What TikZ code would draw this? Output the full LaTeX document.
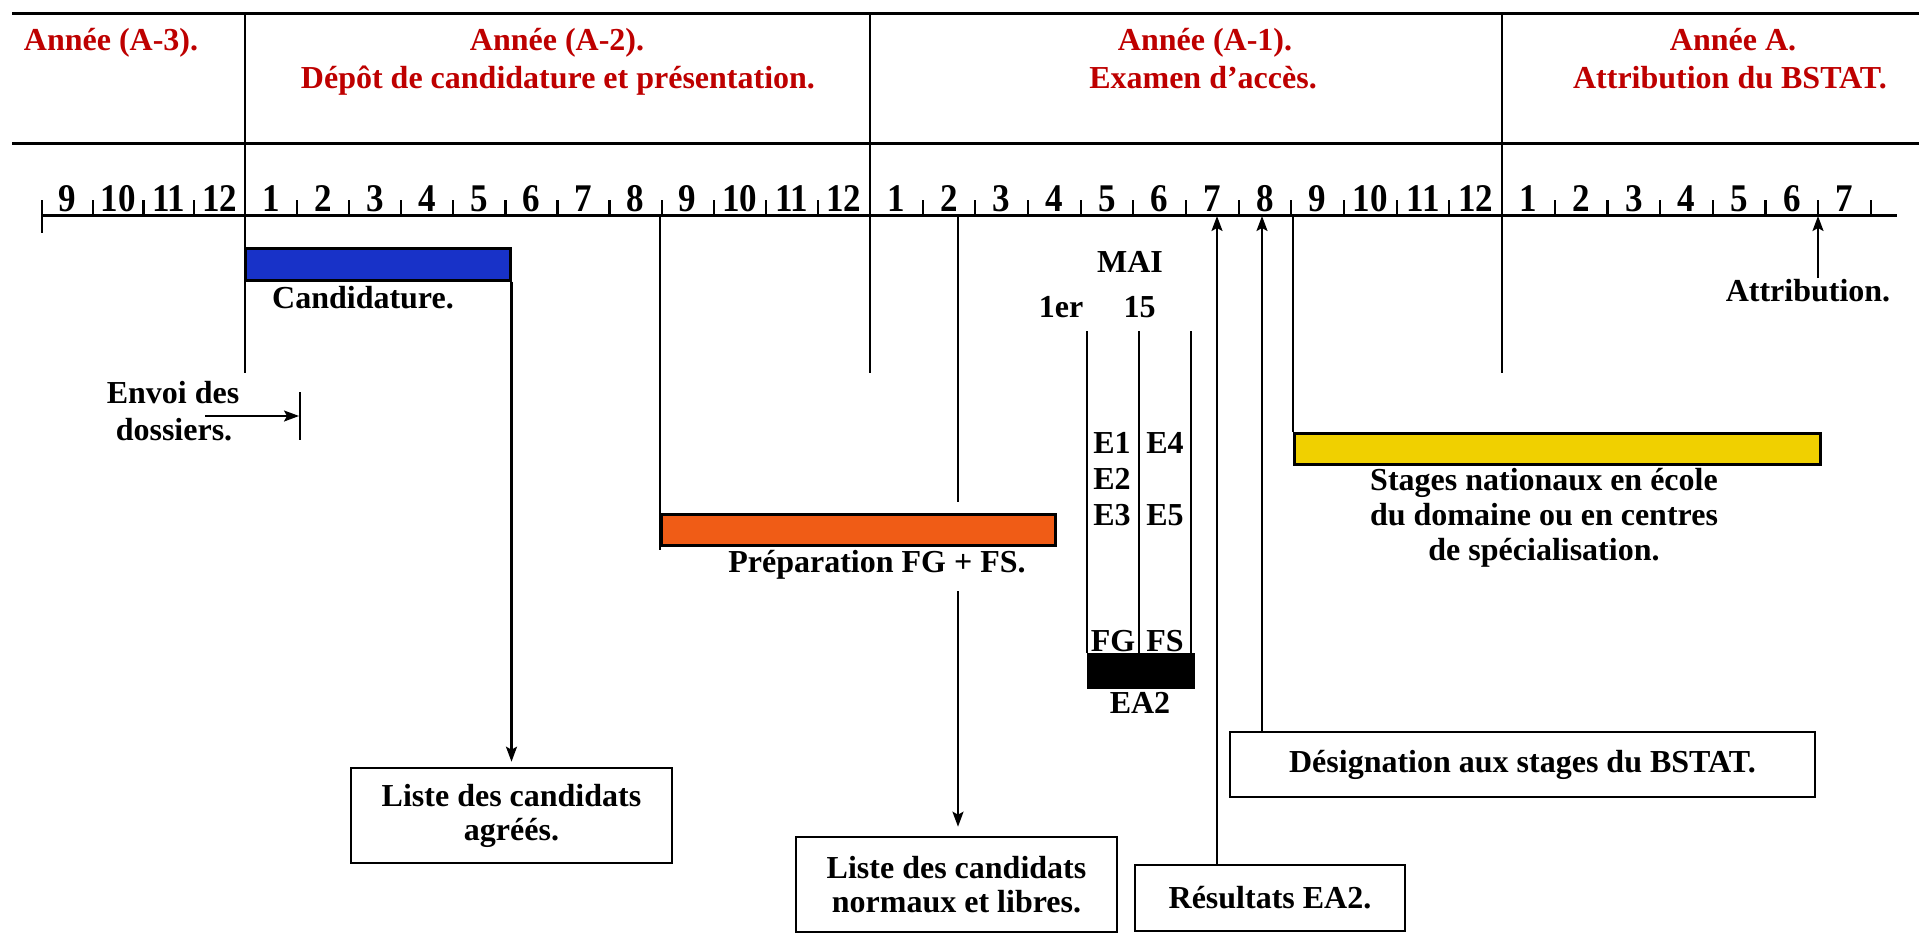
\documentclass[tikz,border=0pt]{standalone}
\usepackage{graphicx}
\usepackage{fontspec}
\setmainfont{Liberation Serif}
\usetikzlibrary{arrows.meta}
\definecolor{hdrred}{RGB}{190,0,0}
\definecolor{barblue}{RGB}{24,50,200}
\definecolor{barorange}{RGB}{240,92,22}
\definecolor{baryellow}{RGB}{240,208,0}
\newcommand{\tallnum}[1]{\scalebox{1}[1.12]{#1}}
\begin{document}
\begin{tikzpicture}[x=1bp,y=-1bp,
  txt/.style={font=\fontsize{32bp}{34bp}\selectfont\bfseries, inner sep=0pt},
  lbl/.style={txt, anchor=base},
  hdr/.style={lbl, text=hdrred},
  num/.style={font=\fontsize{35bp}{36bp}\selectfont\bfseries, inner sep=0pt, anchor=base},
  ln/.style={line width=2.2bp, line cap=butt},
  hline/.style={line width=3bp},
  bar/.style={draw=black, line width=2.5bp, inner sep=0pt, anchor=north west},
  box/.style={draw=black, line width=2.6bp, txt, align=center, inner sep=0pt},
  arr/.style={line width=2.2bp, -{Stealth[length=15bp,width=11bp,inset=3bp]}},
]
\useasboundingbox (0,0) rectangle (1919,947);
\fill[white] (0,0) rectangle (1919,947);

% ---------- header ----------
\draw[hline] (12,13) -- (1919,13);
\draw[hline] (12,143) -- (1919,143);
\foreach \x in {245,870,1502} \draw[ln] (\x,13) -- (\x,373);

\node[hdr] (h3) at (111,50) {Année (A-3).};
\node[hdr] (h2a) at (557,50) {Année (A-2).};
\node[hdr] (h2b) at (558,88) {Dépôt de candidature et présentation.};
\node[hdr] (h1a) at (1205,50) {Année (A-1).};
\node[hdr] (h1b) at (1203,88) {Examen d’accès.};
\node[hdr] (h0a) at (1733,50) {Année A.};
\node[hdr] (h0b) at (1730,88) {Attribution du BSTAT.};

% ---------- time axis ----------
\draw[hline] (42,215) -- (1897,215);
\draw[ln] (42,200) -- (42,233);
\foreach \m [count=\i from 0] in {9,10,11,12} {
  \pgfmathsetmacro\xa{42+50.75*\i}
  \node[num] (ma\m) at (\xa+25.4,211) {\tallnum{\m}};
  \draw[ln] (\xa+50.75,215) -- (\xa+50.75,200);
}
\foreach \m [count=\i from 0] in {1,...,12} {
  \pgfmathsetmacro\xa{245+52.08*\i}
  \node[num] (mb\m) at (\xa+26.04,211) {\tallnum{\m}};
  \draw[ln] (\xa+52.08,215) -- (\xa+52.08,200);
}
\foreach \m [count=\i from 0] in {1,...,12} {
  \pgfmathsetmacro\xa{870+52.67*\i}
  \node[num] (mc\m) at (\xa+26.33,211) {\tallnum{\m}};
  \draw[ln] (\xa+52.67,215) -- (\xa+52.67,200);
}
\foreach \m [count=\i from 0] in {1,...,7} {
  \pgfmathsetmacro\xa{1502+52.7*\i}
  \node[num] (md\m) at (\xa+26.35,211) {\tallnum{\m}};
  \draw[ln] (\xa+52.7,215) -- (\xa+52.7,200);
}

% ---------- bars ----------
\node[bar, fill=barblue, minimum width=265bp, minimum height=32bp] (cand) at (244,247) {};
\node[bar, fill=barorange, minimum width=394bp, minimum height=31bp] (prep) at (660,513) {};
\node[bar, fill=baryellow, minimum width=526bp, minimum height=31bp] (stag) at (1293,432) {};
\node[bar, fill=black, minimum width=105bp, minimum height=33bp] (ea) at (1087,653) {};

\node[lbl] (candt) at (363,308) {Candidature.};
\node[lbl] (prept) at (877,572) {Préparation FG + FS.};
\node[lbl] (st1) at (1544,490) {Stages nationaux en école};
\node[lbl] (st2) at (1544,525) {du domaine ou en centres};
\node[lbl] (st3) at (1544,560) {de spécialisation.};

% ---------- envoi ----------
\node[lbl] (env1) at (173,403) {Envoi des};
\node[lbl] (env2) at (174,440) {dossiers.};
\coordinate (envs) at (205,416);
\coordinate (enve) at (299,416);
\draw[ln] (300,392) -- (300,440);
\draw[arr] (envs) -- (enve);

% ---------- exam (MAI) ----------
\node[lbl] (mai) at (1130,272) {MAI};
\node[lbl] (d1) at (1061,317) {1er};
\node[lbl] (d15) at (1139.5,317) {15};
\foreach \x in {1087,1139,1191} \draw[ln] (\x,331) -- (\x,653);
\node[lbl] (e1) at (1112,453) {E1};
\node[lbl] (e4) at (1165,453) {E4};
\node[lbl] (e2) at (1112,489) {E2};
\node[lbl] (e3) at (1112,525) {E3};
\node[lbl] (e5) at (1165,525) {E5};
\node[lbl] (fg) at (1113,651) {FG};
\node[lbl] (fs) at (1165,651) {FS};
\node[lbl] (ea2) at (1140,713) {EA2};

% ---------- boxes ----------
\node[box, minimum width=321bp, minimum height=95bp] (agr) at (511.5,815.5) {Liste des candidats\\agréés.};
\node[box, minimum width=321bp, minimum height=95bp] (norm) at (956.5,884.5) {Liste des candidats\\normaux et libres.};
\node[box, minimum width=270bp, minimum height=66bp] (res) at (1270,898) {Résultats EA2.};
\node[box, minimum width=585bp, minimum height=65bp] (des) at (1522.5,764.5) {Désignation aux stages du BSTAT.};
\node[lbl] (attr) at (1808,301) {Attribution.};

% ---------- connectors ----------
\coordinate (ax2) at (958,215);
\coordinate (ax7) at (1217,216);
\coordinate (ax8) at (1262,216);
\coordinate (ax6) at (1818,216);
\coordinate (ax89) at (1293,215);
\coordinate (ax89b) at (660,215);
\draw[arr, shorten >=5bp] (cand.south east) -- (cand.south east |- agr.north);
\draw[ln] (ax2) -- (958,502);
\draw[arr, shorten >=9bp] (958,591) -- (ax2 |- norm.north);
\draw[ln] (ax89b) -- (660,550);
\draw[ln] (ax89) -- (stag.north west);
\draw[arr] (ax7 |- res.north) -- (ax7);
\draw[arr] (ax8 |- des.north) -- (ax8);
\draw[arr] (1818,278) -- (ax6);
\end{tikzpicture}
\end{document}
